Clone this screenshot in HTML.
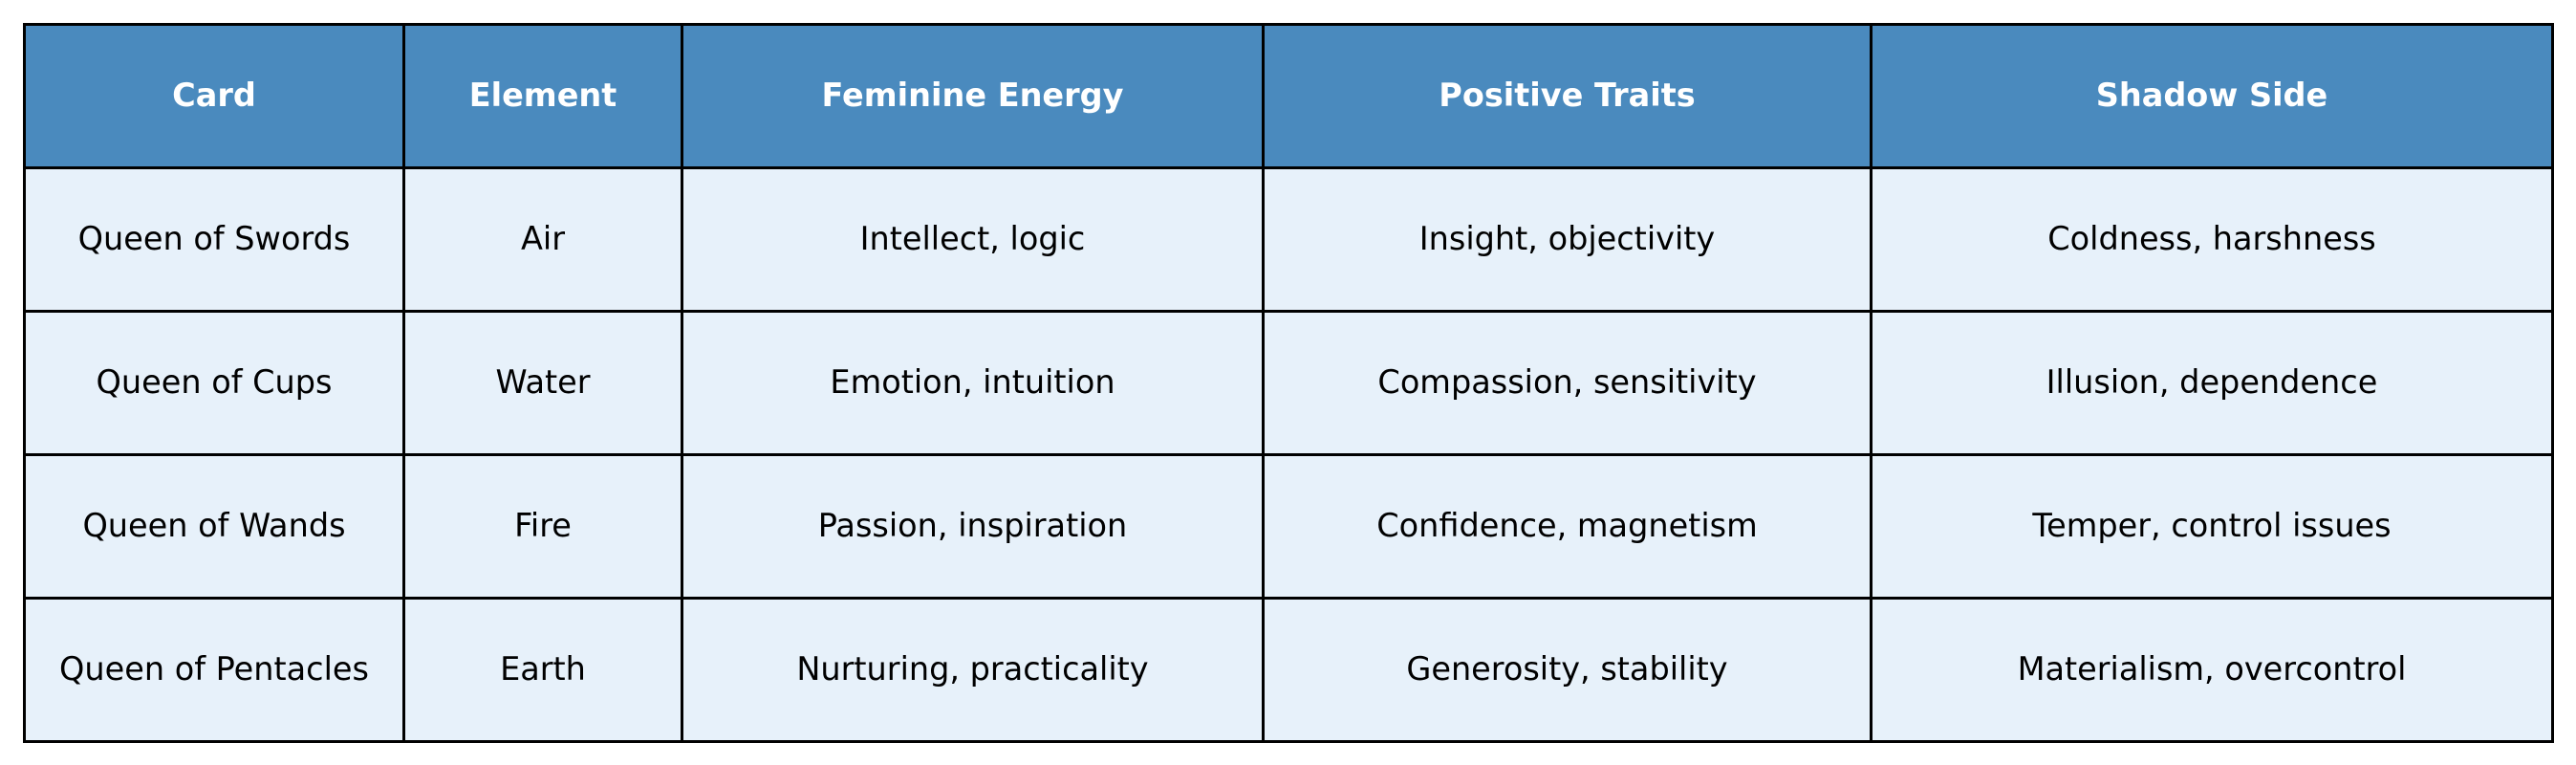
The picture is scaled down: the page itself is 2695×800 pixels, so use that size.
<!DOCTYPE html>
<html><head><meta charset="utf-8"><style>
html,body{margin:0;padding:0;background:#fff;width:2695px;height:800px;overflow:hidden}
table{position:absolute;left:24px;top:24px;border-collapse:collapse;font-family:"DejaVu Sans","Liberation Sans",sans-serif;font-size:33.5px;color:#000}
td,th{border:3px solid #000;text-align:center;vertical-align:middle;padding:0 0 3px 0;height:144px}
th{background:#4a8abe;color:#fff;font-weight:bold}
td{background:#e7f1fa}
</style></head><body>
<table>
<colgroup><col style="width:397px"><col style="width:291px"><col style="width:608px"><col style="width:636px"><col style="width:713px"></colgroup>
<tr><th>Card</th><th>Element</th><th>Feminine Energy</th><th>Positive Traits</th><th>Shadow Side</th></tr>
<tr><td>Queen of Swords</td><td>Air</td><td>Intellect, logic</td><td>Insight, objectivity</td><td>Coldness, harshness</td></tr>
<tr><td>Queen of Cups</td><td>Water</td><td>Emotion, intuition</td><td>Compassion, sensitivity</td><td>Illusion, dependence</td></tr>
<tr><td>Queen of Wands</td><td>Fire</td><td>Passion, inspiration</td><td>Confidence, magnetism</td><td>Temper, control issues</td></tr>
<tr><td>Queen of Pentacles</td><td>Earth</td><td>Nurturing, practicality</td><td>Generosity, stability</td><td>Materialism, overcontrol</td></tr>
</table>
</body></html>
